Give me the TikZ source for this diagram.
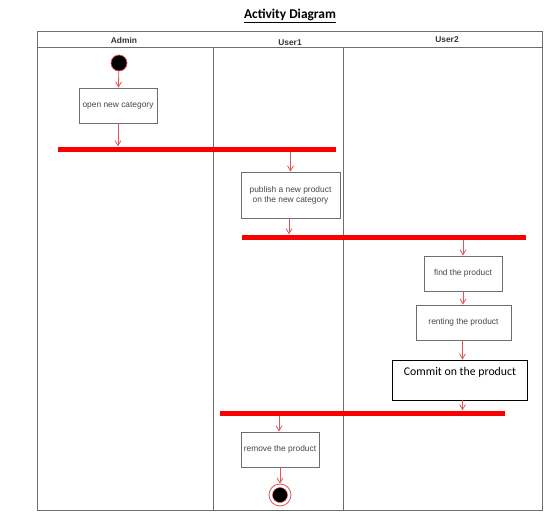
\documentclass[tikz,border=0pt]{standalone}
\usepackage{fontspec}
\setmainfont{Liberation Sans}
\newfontfamily\calibri{Carlito}
\usepackage{tikz}
\usetikzlibrary{positioning,calc,arrows.meta}

\definecolor{flowred}{RGB}{226,84,84}
\definecolor{barred}{RGB}{250,0,0}
\definecolor{framegray}{RGB}{110,110,110}
\definecolor{textgray}{RGB}{70,70,70}

\begin{document}
\begin{tikzpicture}[x=1pt, y=-1pt,
    lane/.style={draw=framegray, line width=1pt},
    action/.style={draw=framegray, line width=0.9pt, fill=white, inner sep=0pt, align=center,
        text=textgray, font=\fontsize{8.4}{10}\selectfont},
    forkbar/.style={fill=barred, inner sep=0pt, minimum height=5pt},
    flow/.style={draw=flowred, line width=0.8pt, -{Straight Barb[length=5pt,width=6pt]}},
    lanename/.style={font=\bfseries\fontsize{8.4}{10}\selectfont, text=black!80}]
        \useasboundingbox (0,0) rectangle (560,527);

        % Title
        \node (title) at (290,16) {\calibri\bfseries\fontsize{13.4}{15}\selectfont\underline{Activity Diagram}};

        % Swimlanes
        \draw[lane] (37,32) rectangle (542,510);
        \draw[lane] (37,48) -- (542,48);
        \draw[lane] (213,48) -- (213,510);
        \draw[lane] (343,48) -- (343,510);
        \node[lanename] (admin) at (124,40) {Admin};
        \node[lanename] (user1) at (290,43) {User1};
        \node[lanename] (user2) at (447,40) {User2};

        % Admin
        \node[circle, fill=black, draw=flowred, line width=0.7pt, minimum size=16pt, inner sep=0pt] (start) at (119,63) {};
        \node[action, minimum width=78pt, minimum height=35pt] (open) at (118,105.5) {open new category};
        \node[forkbar, minimum width=278pt] (fork1) at (197,149) {};

        % User1
        \node[action, minimum width=99pt, minimum height=46pt] (publish) at (290.5,195) {publish a new product\\on the new category};
        \node[forkbar, minimum width=284pt] (fork2) at (384,237) {};

        % User2
        \node[action, minimum width=78pt, minimum height=35pt] (find) at (463,273.5) {find the product};
        \node[action, minimum width=95pt, minimum height=35pt] (renting) at (463.5,322.5) {renting the product};
        \node[draw=black, line width=0.9pt, fill=white, minimum width=135pt, minimum height=40pt, inner sep=0pt] (commit) at (459.5,380) {};
        \node[font=\calibri\fontsize{11.8}{13}\selectfont] (committext) at (460,372.5) {Commit on the product};
        \node[forkbar, minimum width=285pt] (fork3) at (362.5,413) {};

        % back in User1
        \node[action, minimum width=78pt, minimum height=35pt] (remove) at (280,449.5) {remove the product};
        \node[circle, fill=white, draw=flowred, line width=0.8pt, minimum size=22pt, inner sep=0pt] (finish) at (280,495) {};
        \node[circle, fill=black, draw=flowred, line width=0.5pt, minimum size=15pt, inner sep=0pt] (finishdot) at (finish) {};

        % Flows
        \draw[flow] (start) -- (open);
        \draw[flow] (open) -- (open |- fork1.north);
        \draw[flow] (fork1.south -| publish) -- (publish);
        \draw[flow] ([xshift=-1.5pt]publish.south) -- ([xshift=-1.5pt]publish.south |- fork2.north);
        \draw[flow] (fork2.south -| find) -- (find);
        \draw[flow] (find) -- (find |- renting.north);
        \draw[flow] ([xshift=-1pt]renting.south) -- ([xshift=-1pt]renting.south |- commit.north);
        \draw[flow] ([xshift=3pt]commit.south) -- ([xshift=3pt]commit.south |- fork3.north);
        \draw[flow] ([xshift=-1pt]fork3.south -| remove) -- ([xshift=-1pt]remove.north);
        \draw[flow] (remove) -- (finish);
    \end{tikzpicture}
\end{document}
